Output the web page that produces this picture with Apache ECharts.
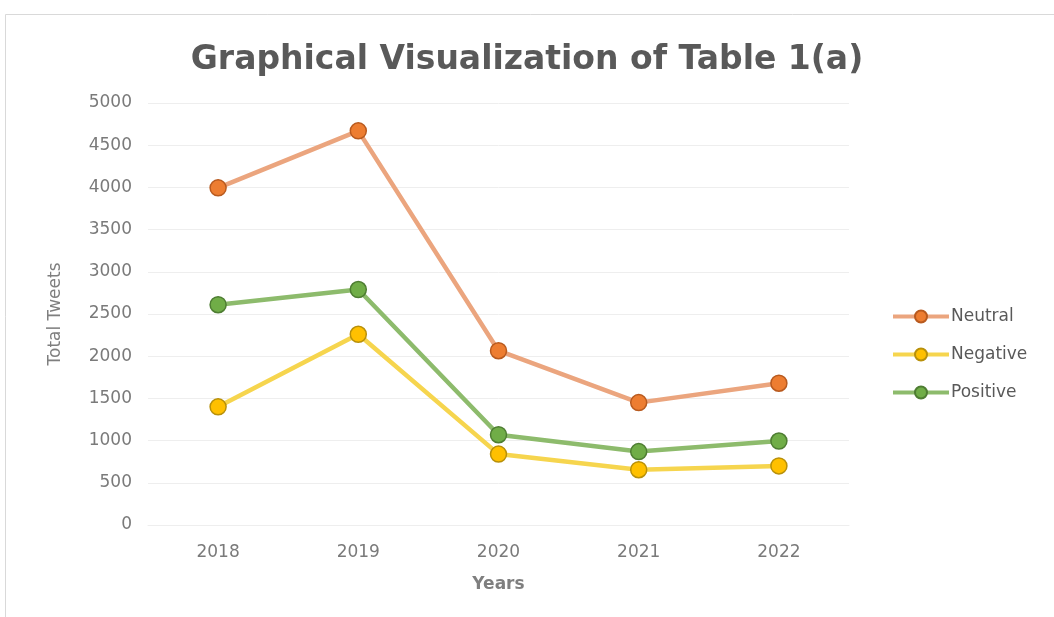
<!DOCTYPE html>
<html><head><meta charset="utf-8">
<script src="https://cdn.jsdelivr.net/npm/echarts@6/dist/echarts.min.js"></script>
<style>html,body{margin:0;padding:0;background:#fff}#c{width:1054px;height:617px}</style>
</head><body><div id="c"></div>
<script>
const years = ['2018','2019','2020','2021','2022'];
const neutral = [3995, 4670, 2065, 1450, 1680];
const negative = [1400, 2260, 840, 655, 700];
const positive = [2610, 2790, 1070, 870, 995];
const yTicks = [0, 500, 1000, 1500, 2000, 2500, 3000, 3500, 4000, 4500, 5000];

const chart = echarts.init(document.getElementById('c'), null, {renderer:'canvas'});
const font = 'DejaVu Sans';
function ser(name, data, line, fill, border){
  return {name, type:'line', data, symbol:'circle', symbolSize:16,
    lineStyle:{color:line, width:4.5},
    itemStyle:{color:fill, borderColor:border, borderWidth:1.5},
    emphasis:{disabled:true}, z: 3};
}
chart.setOption({
  animation:false,
  backgroundColor:'#fff',
  graphic:[{type:'rect', shape:{x:5.5,y:14.5,width:1060,height:620}, style:{fill:'none', stroke:'#d9d9d9', lineWidth:1}, silent:true}],
  title:{text:'Graphical Visualization of Table 1(a)', left:'center', top:39,
    textStyle:{fontFamily:font, fontWeight:'bold', fontSize:33, color:'#595959'}},
  grid:{left:148, right:205, top:103, bottom:92, containLabel:false},
  legend:{orient:'vertical', left:886, top:303, itemGap:21, itemWidth:56, itemHeight:15,
    lineStyle:{width:4},
    textStyle:{fontFamily:font, fontSize:17, color:'#595959', padding:[0,0,0,-3]},
    data:['Neutral','Negative','Positive']},
  xAxis:{type:'category', data:years, boundaryGap:true,
    name:'Years', nameLocation:'middle', nameGap:51,
    nameTextStyle:{fontFamily:font, fontSize:17, fontWeight:'bold', color:'#7f7f7f'},
    axisLine:{show:true, lineStyle:{color:'#eeeeee'}}, axisTick:{show:false},
    axisLabel:{fontFamily:font, fontSize:17, color:'#7a7a7a', margin:19}},
  yAxis:{type:'value', min:yTicks[0], max:yTicks[yTicks.length-1], interval:500,
    name:'Total Tweets', nameLocation:'middle', nameGap:84, nameRotate:90,
    nameTextStyle:{fontFamily:font, fontSize:17, color:'#7f7f7f'},
    axisLine:{show:false}, axisTick:{show:false},
    splitLine:{lineStyle:{color:'#eeeeee', width:1}},
    axisLabel:{fontFamily:font, fontSize:17, color:'#7a7a7a', margin:16, formatter:v=>String(v)}},
  series:[
    ser('Neutral', neutral, '#EBA57E', '#ED7D31', '#B85A1F'),
    ser('Negative', negative, '#F6D54E', '#FFC000', '#B8900A'),
    ser('Positive', positive, '#8DBB6C', '#70AD47', '#4E7D32')
  ]
});
</script></body></html>
